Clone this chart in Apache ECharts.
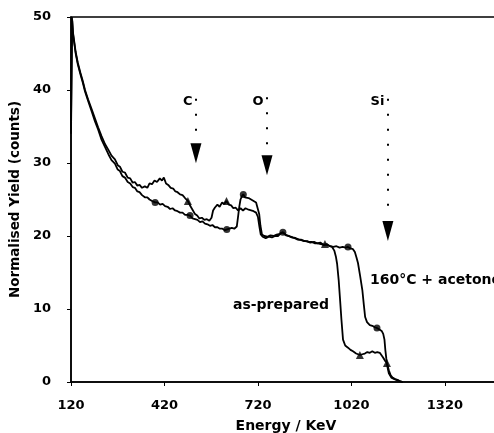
<!DOCTYPE html>
<html>
<head>
<meta charset="utf-8">
<script src="https://cdn.jsdelivr.net/npm/echarts@6/dist/echarts.min.js"></script>
<style>
  html, body { margin: 0; padding: 0; background: #fff; }
  #chart { width: 494px; height: 433px; }
</style>
</head>
<body>
<div id="chart"></div>
<script>
// energy (keV) / normalised yield pairs
const asPrepared = [
  [120, 35], [123, 50], [126, 48], [135, 45.2], [142, 43.7], [150, 42.4], [158, 41.2],
  [165, 40], [175, 38.7], [187, 37.3], [197, 36.1], [207, 34.9], [218, 33.7], [229, 32.6],
  [240, 31.8], [250, 31.0], [261, 30.5], [270, 29.7], [277, 29.5], [285, 28.8], [293, 28.7],
  [302, 28.0], [310, 27.9], [318, 27.3], [325, 27.4], [333, 26.9], [340, 27.0], [348, 26.6],
  [357, 26.8], [365, 26.6], [372, 27.2], [380, 27.1], [388, 27.6], [396, 27.4], [405, 27.9],
  [412, 27.6], [418, 28.0], [425, 27.2], [432, 27.0], [440, 26.6], [448, 26.5], [455, 26.1],
  [462, 26.0], [470, 25.7], [478, 25.6], [486, 25.2], [495, 24.8], [503, 24.1], [510, 23.6],
  [518, 23.0], [525, 22.8], [532, 22.4], [540, 22.5], [548, 22.2], [556, 22.3], [564, 22.1],
  [571, 22.5], [576, 23.5], [582, 23.9], [590, 24.3], [597, 24.0], [605, 24.6], [612, 24.4],
  [619, 24.8], [626, 24.3], [634, 24.2], [641, 23.8], [648, 23.9], [656, 23.5], [664, 23.8],
  [672, 23.5], [680, 23.8], [690, 23.6], [698, 23.5], [706, 23.4], [714, 23.2], [720, 22.6],
  [725, 21.2], [729, 20.2], [735, 19.9], [745, 19.7], [755, 19.9], [765, 19.8], [775, 20.0],
  [785, 20.0], [793, 20.4], [800, 20.5], [808, 20.2], [818, 20.0], [828, 19.8], [838, 19.7],
  [848, 19.5], [858, 19.5], [868, 19.3], [878, 19.3], [888, 19.1], [900, 19.2], [910, 19.0],
  [920, 19.1], [930, 18.8], [941, 18.9], [950, 18.6], [958, 18.5], [965, 18.0], [970, 17.2],
  [974, 16.2], [979, 14.0], [983, 11.6], [988, 8.5], [993, 5.8], [1000, 5.0], [1009, 4.7],
  [1017, 4.4], [1025, 4.2], [1035, 3.9], [1047, 3.7], [1055, 3.8], [1063, 3.9], [1071, 4.1],
  [1079, 4.0], [1087, 4.2], [1095, 4.0], [1103, 4.1], [1111, 4.0], [1117, 3.8], [1121, 3.4],
  [1128, 2.9], [1134, 2.6], [1140, 1.6], [1146, 0.9], [1152, 0.6], [1160, 0.4], [1168, 0.3],
  [1176, 0.1], [1185, 0]
];

const acetone160 = [
  [120, 34], [124, 49.5], [127, 47.5], [135, 45.0], [142, 43.5], [150, 42.2], [158, 41.0],
  [165, 39.8], [175, 38.5], [187, 37.0], [197, 35.7], [207, 34.6], [218, 33.2], [229, 32.2],
  [240, 31.2], [250, 30.4], [261, 29.9], [270, 29.1], [277, 28.9], [285, 28.2], [293, 28.0],
  [302, 27.4], [310, 27.2], [318, 26.7], [325, 26.6], [333, 26.1], [340, 26.0], [348, 25.6],
  [357, 25.3], [365, 25.3], [372, 25.0], [380, 24.8], [390, 24.6], [398, 24.6], [406, 24.3],
  [414, 24.4], [422, 24.1], [430, 24.0], [438, 23.7], [446, 23.8], [454, 23.5], [462, 23.4],
  [470, 23.2], [478, 23.2], [486, 22.9], [494, 22.9], [502, 22.8], [510, 22.4], [518, 22.3],
  [526, 22.2], [534, 21.9], [542, 22.0], [550, 21.7], [558, 21.6], [566, 21.4], [574, 21.5],
  [582, 21.2], [590, 21.2], [598, 21.0], [606, 21.0], [614, 20.8], [620, 20.9], [628, 21.0],
  [636, 21.1], [644, 21.0], [652, 21.3], [656, 22.6], [660, 24.0], [664, 25.0], [668, 25.4],
  [673, 25.7], [678, 25.3], [684, 25.5], [690, 25.2], [696, 25.0], [702, 24.9], [708, 24.8],
  [714, 24.6], [720, 24.4], [724, 23.0], [728, 21.4], [733, 20.2], [740, 20.0], [750, 19.9],
  [760, 20.1], [770, 20.0], [780, 20.2], [790, 20.3], [800, 20.5], [810, 20.1], [820, 20.0],
  [832, 19.8], [842, 19.7], [852, 19.5], [862, 19.4], [872, 19.3], [882, 19.2], [892, 19.2],
  [902, 19.0], [912, 19.0], [922, 18.9], [932, 18.8], [942, 18.8], [952, 18.6], [962, 18.5],
  [972, 18.6], [982, 18.4], [992, 18.5], [1001, 18.4], [1009, 18.5], [1017, 18.3], [1025, 18.2],
  [1031, 17.8], [1036, 17.1], [1041, 16.3], [1048, 14.5], [1055, 12.6], [1060, 10.5],
  [1064, 8.9], [1070, 8.2], [1079, 7.8], [1087, 7.7], [1095, 7.5], [1102, 7.4], [1110, 7.2],
  [1117, 7.0], [1122, 6.6], [1126, 5.8], [1129, 4.3], [1132, 3.2], [1135, 2.2], [1140, 1.2],
  [1148, 0.6], [1158, 0.4], [1170, 0.2], [1185, 0]
];

// sparse symbols drawn on each trace
const asPreparedMarks = [[495, 24.8], [619, 24.8], [935, 18.9], [1047, 3.7], [1134, 2.6]];
const acetoneMarks = [[390, 24.6], [502, 22.8], [620, 20.9], [673, 25.7], [800, 20.5], [1009, 18.5], [1102, 7.4]];

// element edge arrows: label, energy of the arrow, label height, dotted line top/bottom, arrowhead centre
const edgeNames = ['C', 'O', 'Si'];
const edgeEnergy = [521, 749, 1137];
const edgeLabelY = [38.4, 38.4, 38.4];
const edgeLineTop = [38.8, 39.0, 38.8];
const edgeLineBottom = [33.2, 32.4, 22.8];
const edgeHeadY = [31.35, 29.7, 20.7];

const xTicks = { min: 120, max: 1500, interval: 300 };
const yTicks = { min: 0, max: 50, interval: 10 };

const font = 'DejaVu Sans';
const chart = echarts.init(document.getElementById('chart'));

const markLineData = edgeNames.map((n, i) => [
  { coord: [edgeEnergy[i], edgeLineTop[i]] },
  { coord: [edgeEnergy[i], edgeLineBottom[i]] }
]);
const headData = edgeNames.map((n, i) => ({
  coord: [edgeEnergy[i], edgeHeadY[i]],
  symbol: 'triangle',
  symbolSize: [11, 20],
  symbolRotate: 180,
  itemStyle: { color: '#000' },
  label: { show: false }
}));
const labelData = edgeNames.map((n, i) => ({
  name: n,
  coord: [edgeEnergy[i], edgeLabelY[i]],
  symbol: 'circle',
  symbolSize: 1,
  itemStyle: { color: 'rgba(0,0,0,0)' },
  label: {
    show: true, position: 'left', distance: 3, formatter: n,
    color: '#000', fontFamily: font, fontWeight: 'bold', fontSize: 13
  }
}));

const option = {
  animation: false,
  backgroundColor: '#fff',
  grid: {
    left: 71, top: 17, bottom: 51, right: -7,
    outerBoundsMode: 'none',
    containLabel: false,
    show: true, borderColor: '#000', borderWidth: 1.5, backgroundColor: 'transparent'
  },
  xAxis: {
    type: 'value',
    min: xTicks.min, max: xTicks.max, interval: xTicks.interval,
    name: 'Energy / KeV',
    nameLocation: 'middle',
    nameGap: 37,
    nameTextStyle: { color: '#000', fontFamily: font, fontWeight: 'bold', fontSize: 14 },
    axisLine: { lineStyle: { color: '#000', width: 1.5 } },
    axisTick: { length: 4, lineStyle: { color: '#000' } },
    axisLabel: {
      color: '#000', fontFamily: font, fontWeight: 'bold', fontSize: 13, margin: 17,
      showMaxLabel: false, formatter: (v) => String(v)
    },
    splitLine: { show: false }
  },
  yAxis: {
    type: 'value',
    min: yTicks.min, max: yTicks.max, interval: yTicks.interval,
    name: 'Normalised Yield (counts)',
    nameLocation: 'middle',
    nameGap: 38,
    nameTextStyle: { color: '#000', fontFamily: font, fontWeight: 'bold', fontSize: 13.5 },
    axisLine: { lineStyle: { color: '#000', width: 1.5 } },
    axisTick: { length: 4, lineStyle: { color: '#000' } },
    axisLabel: { color: '#000', fontFamily: font, fontWeight: 'bold', fontSize: 13, margin: 20 },
    splitLine: { show: false }
  },
  series: [
    {
      name: 'as-prepared',
      type: 'line',
      data: asPrepared,
      showSymbol: false,
      lineStyle: { color: '#000', width: 1.8 },
      markLine: {
        silent: true,
        symbol: 'none',
        label: { show: false },
        lineStyle: { color: '#000', width: 2, type: [2, 13] },
        data: markLineData
      },
      markPoint: { silent: true, data: headData.concat(labelData) }
    },
    {
      name: '160°C + acetone',
      type: 'line',
      data: acetone160,
      showSymbol: false,
      lineStyle: { color: '#000', width: 1.8 }
    },
    {
      type: 'scatter',
      data: asPreparedMarks,
      symbol: 'triangle',
      symbolSize: 8,
      itemStyle: { color: '#000' }
    },
    {
      type: 'scatter',
      data: acetoneMarks,
      symbol: 'circle',
      symbolSize: 7,
      itemStyle: { color: '#000' }
    }
  ],
  graphic: [
    {
      type: 'text', left: 233, top: 298,
      style: { text: 'as-prepared', fill: '#000', font: 'bold 14px "DejaVu Sans"' }
    },
    {
      type: 'text', left: 370, top: 273,
      style: { text: '160°C + acetone', fill: '#000', font: 'bold 14px "DejaVu Sans"' }
    }
  ]
};

chart.setOption(option);
window.addEventListener('resize', () => chart.resize());
</script>
</body>
</html>
